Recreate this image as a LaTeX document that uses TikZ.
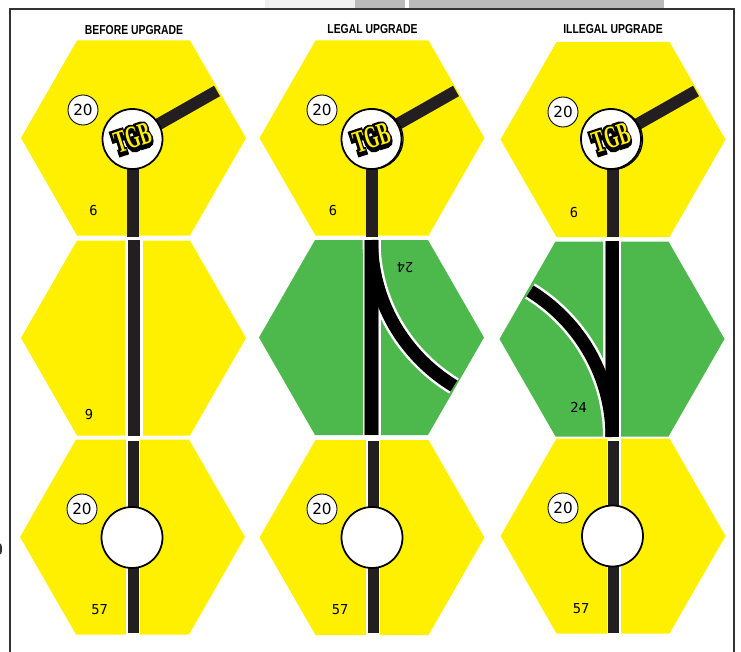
\documentclass[tikz,border=0pt]{standalone}
\usepackage{fontspec}
\setmainfont{Liberation Sans}
\newfontfamily\digitfont{DejaVu Sans}
\newfontfamily\numfont{DejaVu Sans Mono}
\newfontfamily\logofont[FakeBold=22]{Liberation Serif Bold}
\newfontfamily\logotop{Liberation Serif Bold}
\usetikzlibrary{calc}
\definecolor{tileyellow}{HTML}{FFF000}
\definecolor{tilegreen}{HTML}{4DB84B}
\definecolor{trackdark}{HTML}{231F20}

\begin{document}
\begin{tikzpicture}[x=0.02cm, y=-0.02cm,
  headline/.style={font=\fontsize{7.4pt}{8pt}\selectfont\bfseries, xscale=0.8, inner sep=0pt},
  cost/.style={draw=black, fill=white, line width=0.5pt, circle, minimum size=30*0.02cm, inner sep=0pt, font=\digitfont\fontsize{8.7pt}{10pt}\selectfont},
  tilenum/.style={font=\numfont\fontsize{7.8pt}{8pt}\selectfont, inner sep=0pt},
  station/.style={draw=black, fill=white, line width=1.0pt, circle, minimum size=60*0.02cm, inner sep=0pt},
  track/.style={draw=trackdark, line width=12*0.02cm},
  rail/.style={draw=black, line width=13*0.02cm},
  gap/.style={draw=white, line width=18*0.02cm},
  logoback/.style={font=\logofont\fontsize{18pt}{20pt}\selectfont, text=black, rotate=18, xscale=0.56, inner sep=0pt},
  logofront/.style={font=\logotop\fontsize{18pt}{20pt}\selectfont, text=tileyellow, rotate=18, xscale=0.56, inner sep=0pt}]

\useasboundingbox (0,0) rectangle (741,652);

% scrap of the page above the frame
\fill[black!6] (265,0) rectangle (355,8);
\fill[black!27] (355,0) rectangle (405,8);
\fill[black!27] (409,0) rectangle (664,8);
\draw[black!80, line width=1.2pt] (0,544) to[bend left=20] (0,554);

% frame
\draw[black!80, line width=2.2*0.02cm] (10,652) -- (10,9) -- (734,9) -- (734,652);

% titles
\node[headline] (before) at (134,30) {BEFORE UPGRADE};
\node[headline] (legal) at (372.5,29) {LEGAL UPGRADE};
\node[headline] (illegal) at (613,29) {ILLEGAL UPGRADE};

% hexes
\foreach \cx/\cy/\tc in {133.5/138/tileyellow, 372/138/tileyellow, 613/139.5/tileyellow,
    133.5/338/tileyellow, 371.5/337.5/tilegreen, 612/339/tilegreen,
    132.5/537/tileyellow, 372/537.5/tileyellow, 613/536/tileyellow}
  \fill[\tc] (\cx-112.5,\cy) -- (\cx-56.5,\cy-97.5) -- (\cx+56.5,\cy-97.5)
    -- (\cx+112.5,\cy) -- (\cx+56.5,\cy+97.5) -- (\cx-56.5,\cy+97.5) -- cycle;

% top row
\foreach \cx/\cy/\vx/\name in {132.5/139/133.2/a, 371.5/139/372/b, 611.5/139/613/c} {
  \coordinate (top\name) at (\vx,\cy);
  \coordinate (hub\name) at (\cx,\cy);
  \coordinate (topend\name) at (\vx,237);
  \coordinate (topbranch\name) at (\cx+84.5,\cy-48);
  \draw[track] (top\name) -- (topend\name);
  \draw[track] (hub\name) -- (topbranch\name);
}
\node[station, line width=0.7pt] (twinb) at (373,139) {};
\node[station, line width=0.7pt] (twinc) at (612.5,139.5) {};
\foreach \cx/\name in {132.5/a, 371.5/b, 611/c} {
  \node[station] (stat\name) at (\cx,139) {};
  \node[logoback] (logob\name) at (\cx-0.3,138.8) {TGB};
  \node[logofront] (logof\name) at (\cx+0.5,138) {TGB};
}

% middle row, plain
\coordinate (midin) at (133.5,240);
\coordinate (midout) at (133.5,436);
\fill[white] (124.5,239) rectangle (142.5,438);
\draw[track] (midin) -- (midout);

% middle row, legal
\coordinate (legin) at (371.5,240);
\coordinate (legout) at (371.5,435);
\coordinate (legend) at (454,386);
\draw[gap] (legin) -- (legout);
\draw[gap] (legin) .. controls (371.5,300) and (403,355) .. (legend);
\draw[black!50, line width=14.5*0.02cm] (legin) -- (legout);
\draw[rail] (legin) -- (legout);
\draw[rail] (legin) .. controls (371.5,300) and (403,355) .. (legend);

% middle row, illegal
\coordinate (illin) at (612,437);
\coordinate (illout) at (612,241);
\coordinate (illend) at (530,291);
\draw[gap] (illin) -- (illout);
\draw[gap] (illin) .. controls (612,377) and (580.5,322) .. (illend);
\draw[black!50, line width=14.5*0.02cm] (illin) -- (illout);
\draw[rail] (illin) -- (illout);
\draw[rail] (illin) .. controls (612,377) and (580.5,322) .. (illend);

% bottom row
\foreach \cx/\cy/\name in {133/537.5/a, 373/537.5/b, 613.5/536/c} {
  \coordinate (botin\name) at (\cx,441);
  \coordinate (botout\name) at (\cx,633);
  \fill[white] (\cx-7,439) rectangle (\cx+7,636);
  \draw[track, line width=11*0.02cm] (botin\name) -- (botout\name);
  \node[station, minimum size=61*0.02cm] (city\name) at (\cx-1,\cy) {};
}

% costs
\node[cost] (costa) at (83,110) {20};
\node[cost] (costb) at (322,110) {20};
\node[cost] (costc) at (563,112) {20};
\node[cost] (costd) at (82,509) {20};
\node[cost] (coste) at (322,509) {20};
\node[cost] (costf) at (563,508) {20};

% tile numbers
\node[tilenum] (numa) at (93.5,211) {6};
\node[tilenum] (numb) at (333,211) {6};
\node[tilenum] (numc) at (574,213) {6};
\node[tilenum] (numd) at (89,415) {9};
\node[tilenum, rotate=180] (nume) at (405,268) {24};
\node[tilenum] (numf) at (578.5,407) {24};
\node[tilenum] (numg) at (99.5,610) {57};
\node[tilenum] (numh) at (340,610) {57};
\node[tilenum] (numi) at (581,609) {57};

\end{tikzpicture}
\end{document}
